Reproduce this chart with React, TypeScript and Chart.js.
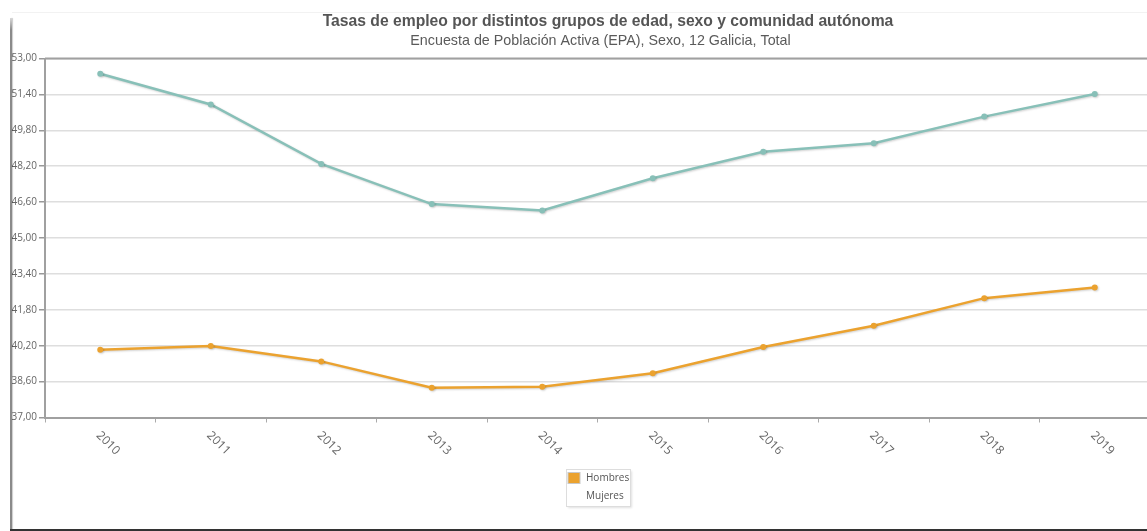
import React, { useEffect, useRef } from 'react';
import { Chart, registerables } from 'chart.js';

Chart.register(...registerables);

const TITLE = 'Tasas de empleo por distintos grupos de edad, sexo y comunidad autónoma';
const SUBTITLE = 'Encuesta de Población Activa (EPA), Sexo, 12 Galicia, Total';

const years = ['2010', '2011', '2012', '2013', '2014', '2015', '2016', '2017', '2018', '2019'];
const seriesLabels = ['Hombres', 'Mujeres'];
const hombres = [40.02, 40.19, 39.5, 38.33, 38.37, 38.97, 40.14, 41.09, 42.32, 42.79];
const mujeres = [52.32, 50.95, 48.3, 46.51, 46.23, 47.66, 48.84, 49.22, 50.41, 51.42];
const yTicks = [37, 38.6, 40.2, 41.8, 43.4, 45, 46.6, 48.2, 49.8, 51.4, 53];

const lineColors = ['#EBA22F', '#88C0B8'];
const legendSwatches = ['#EBA22F', '#FFFFFF'];

const fmt = (v: number) => Number(v).toFixed(2).replace('.', ',');

const shadowPlugin = {
  id: 'lineShadow',
  beforeDatasetsDraw(chart: any) {
    const ctx = chart.ctx;
    ctx.save();
    ctx.shadowColor = 'rgba(0,0,0,0.18)';
    ctx.shadowOffsetX = 1;
    ctx.shadowOffsetY = 1;
    ctx.shadowBlur = 2;
  },
  afterDatasetsDraw(chart: any) {
    chart.ctx.restore();
  },
};

const decorPlugin = {
  id: 'decor',
  afterDraw(chart: any) {
    const ctx = chart.ctx;
    const a = chart.chartArea;
    const x = chart.scales.x;
    ctx.save();

    // titles
    ctx.textAlign = 'center';
    ctx.textBaseline = 'middle';
    ctx.fillStyle = '#555555';
    ctx.font = 'bold 15.7px "Liberation Sans", Arial, sans-serif';
    ctx.fillText(TITLE, 608, 21.5);
    ctx.fillStyle = '#5a5a5a';
    ctx.font = '14.3px "Liberation Sans", Arial, sans-serif';
    ctx.fillText(SUBTITLE, 600.5, 41);

    // top border of plot
    ctx.strokeStyle = '#a0a0a0';
    ctx.lineWidth = 2;
    ctx.beginPath();
    ctx.moveTo(a.left, a.top);
    ctx.lineTo(a.right, a.top);
    ctx.stroke();

    // rotated x labels (clockwise)
    ctx.font = '12px "Open Sans"';
    ctx.fillStyle = '#666666';
    ctx.textAlign = 'left';
    ctx.textBaseline = 'middle';
    (chart.data.labels as string[]).forEach((lab, i) => {
      const px = x.getPixelForValue(i);
      ctx.save();
      ctx.translate(px - 2, a.bottom + 16);
      ctx.rotate(Math.PI / 4);
      ctx.fillText(lab, 0, 0);
      ctx.restore();
    });

    // legend
    const cx = (a.left + a.right) / 2;
    const bx = Math.round(cx - 32) + 0.5;
    const by = 469.5;
    const bw = 64;
    const bh = 37;
    ctx.save();
    ctx.shadowColor = 'rgba(0,0,0,0.12)';
    ctx.shadowBlur = 2;
    ctx.shadowOffsetX = 1;
    ctx.shadowOffsetY = 1;
    ctx.fillStyle = '#ffffff';
    ctx.fillRect(bx, by, bw, bh);
    ctx.restore();
    ctx.strokeStyle = '#dddddd';
    ctx.lineWidth = 1;
    ctx.strokeRect(bx, by, bw, bh);
    ctx.font = '10px "Open Sans"';
    ctx.textBaseline = 'middle';
    ctx.textAlign = 'left';
    chart.data.datasets.forEach((ds: any, i: number) => {
      const rowY = by + 8.5 + i * 18;
      const sw = legendSwatches[i];
      if (sw.toUpperCase() !== '#FFFFFF') {
        ctx.fillStyle = sw;
        ctx.fillRect(bx + 1.5, rowY - 5.5, 12, 11);
        ctx.strokeStyle = '#c8c8c8';
        ctx.strokeRect(bx + 1.5, rowY - 5.5, 12, 11);
      }
      ctx.fillStyle = '#555555';
      ctx.fillText(ds.label, bx + 19.5, rowY);
    });
    ctx.restore();
  },
};

export default function App() {
  const ref = useRef<HTMLCanvasElement>(null);

  useEffect(() => {
    if (!ref.current) return;
    const chart = new Chart(ref.current, {
      type: 'line',
      data: {
        labels: years,
        datasets: [
          {
            label: seriesLabels[0],
            data: hombres,
            borderColor: lineColors[0],
            backgroundColor: lineColors[0],
            borderWidth: 2.5,
            pointRadius: 3,
            pointBorderWidth: 0,
            tension: 0,
          },
          {
            label: seriesLabels[1],
            data: mujeres,
            borderColor: lineColors[1],
            backgroundColor: lineColors[1],
            borderWidth: 2.5,
            pointRadius: 3,
            pointBorderWidth: 0,
            tension: 0,
          },
        ],
      },
      options: {
        animation: false,
        responsive: false,
        devicePixelRatio: 1,
        layout: { autoPadding: false, padding: { top: 58.5, right: 0, bottom: 0, left: 0 } },
        plugins: {
          legend: { display: false },
          tooltip: { enabled: false },
          title: { display: false },
          subtitle: { display: false },
        },
        scales: {
          x: {
            type: 'category',
            offset: true,
            afterFit: (s: any) => {
              s.height = 113.5;
            },
            grid: {
              offset: true,
              drawOnChartArea: false,
              drawTicks: true,
              tickLength: 5,
              tickColor: '#aaaaaa',
              lineWidth: 1,
            },
            border: { color: '#a0a0a0', width: 2 },
            ticks: { display: false },
          },
          y: {
            min: 37,
            max: 53,
            afterBuildTicks: (s: any) => {
              s.ticks = yTicks.map((v) => ({ value: v }));
            },
            afterFit: (s: any) => {
              s.width = 45;
            },
            grid: {
              color: '#dedede',
              lineWidth: 1.5,
              drawTicks: true,
              tickLength: 6,
              tickColor: '#999999',
            },
            border: { color: '#a0a0a0', width: 2 },
            ticks: {
              padding: 2,
              color: '#666666',
              font: { family: '"Open Sans"', size: 10 },
              callback: (v: any) => fmt(v),
            },
          },
        },
      },
      plugins: [shadowPlugin, decorPlugin],
    });
    return () => chart.destroy();
  }, []);

  return (
    <div
      style={{
        position: 'fixed',
        left: 0,
        top: 0,
        width: 1147,
        height: 531,
        overflow: 'hidden',
        background: '#ffffff',
      }}
    >
      <canvas ref={ref} width={1150} height={531} style={{ position: 'absolute', left: 0, top: 0, width: 1150, height: 531 }} />
      <div style={{ position: 'absolute', left: 12, top: 12, width: 1135, height: 1, background: '#f2f2f2', pointerEvents: 'none' }} />
      <div
        style={{
          position: 'absolute',
          left: 10,
          top: 18,
          width: 2,
          height: 513,
          background: 'linear-gradient(#d8d8d8, #8a8a8a 12px, #8a8a8a)',
          boxShadow: '1px 0 1px rgba(0,0,0,0.2)',
          pointerEvents: 'none',
        }}
      />
      <div style={{ position: 'absolute', left: 10, top: 529, width: 1137, height: 2, background: '#333333', pointerEvents: 'none' }} />
    </div>
  );
}
